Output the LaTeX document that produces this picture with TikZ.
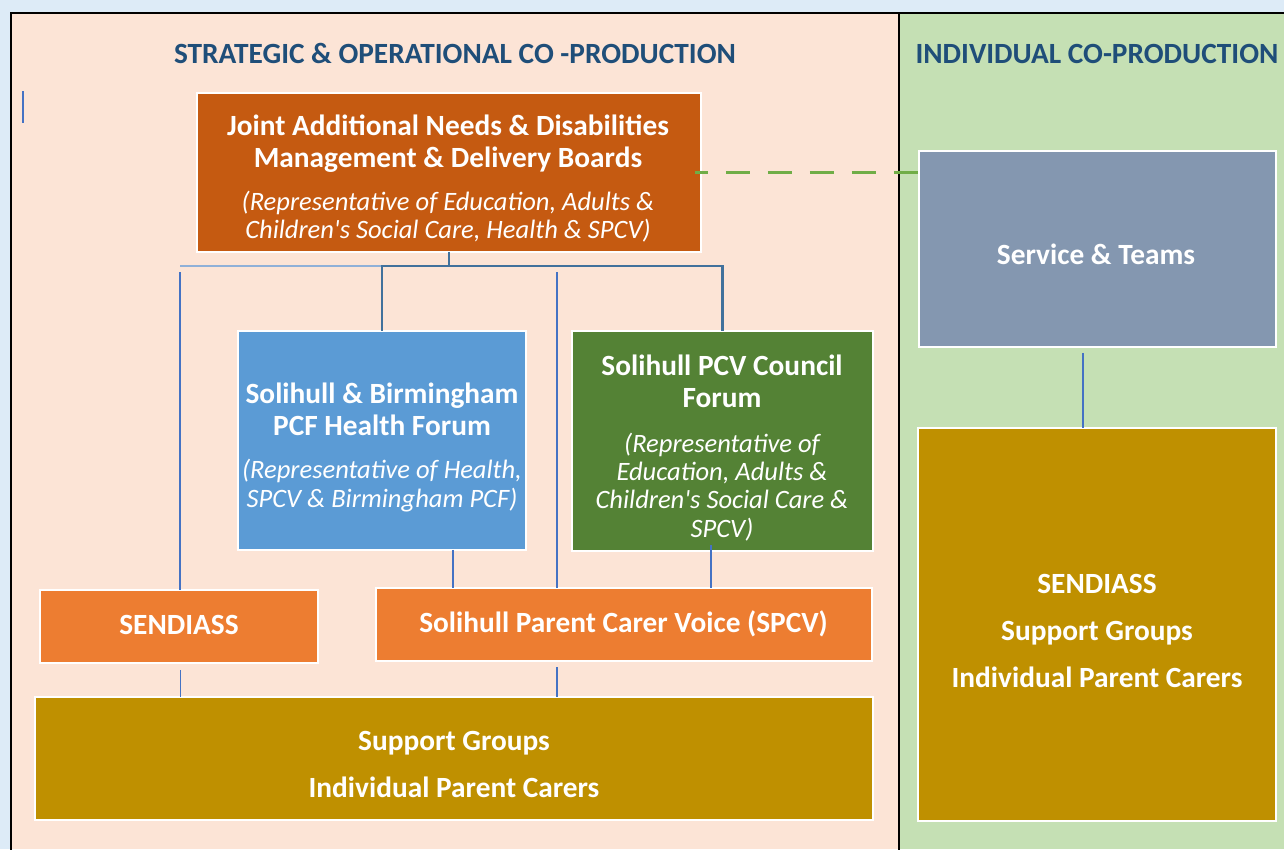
\documentclass[tikz,border=0pt]{standalone}
\usepackage{fontspec}
\setmainfont{Carlito}
\definecolor{pagebg}{HTML}{DDEBF7}
\definecolor{leftbg}{HTML}{FCE4D6}
\definecolor{rightbg}{HTML}{C5E0B4}
\definecolor{titleblue}{HTML}{1F4E79}
\definecolor{jointc}{HTML}{C55A11}
\definecolor{servc}{HTML}{8497B0}
\definecolor{pcfc}{HTML}{5B9BD5}
\definecolor{pcvc}{HTML}{548235}
\definecolor{orangec}{HTML}{ED7D31}
\definecolor{goldc}{HTML}{BF9000}
\definecolor{linec}{HTML}{4472C4}
\definecolor{treec}{HTML}{41719C}
\definecolor{treelightc}{HTML}{8FB0D8}
\definecolor{dashc}{HTML}{70AD47}
\tikzset{
  box/.style={draw=white, line width=1.6pt, inner sep=0pt, outer sep=0pt},
  ttl/.style={font=\bfseries\fontsize{16.7}{19}\selectfont, text=titleblue, anchor=base, inner sep=0pt},
  bt/.style={font=\bfseries\fontsize{16.7}{19}\selectfont, text=white, anchor=base, inner sep=0pt},
  itl/.style={font=\itshape\fontsize{15.1}{17}\selectfont, text=white, anchor=base, inner sep=0pt},
  thinline/.style={draw=linec, line width=0.8pt},
  treeline/.style={draw=treec, line width=1.4pt},
  treelight/.style={draw=treelightc, line width=1.4pt},
  dashline/.style={draw=dashc, line width=2pt, dash pattern=on 13.66pt off 10.24pt, dash phase=6.26pt}
}
\begin{document}
\begin{tikzpicture}[x=0.02cm, y=-0.02cm]
\useasboundingbox (0,0) rectangle (1284,849);
\fill[pagebg] (0,0) rectangle (1284,849);
\fill[leftbg] (11,13) rectangle (899,849);
\fill[rightbg] (899,13) rectangle (1284,849);
\draw[black, line width=1.3pt] (11,852) -- (11,13) -- (1286,13);
\draw[black, line width=1.3pt] (899,13) -- (899,852);
% small cursor mark
\coordinate (m1) at (23,91);
\coordinate (m2) at (23,123);
\draw[linec, line width=1.2pt] (m1) -- (m2);

% titles
\node[ttl] (t1) at (455,63) {STRATEGIC \& OPERATIONAL CO -PRODUCTION};
\node[ttl] (t2) at (1097,63) {INDIVIDUAL CO-PRODUCTION};

% boxes
\node[box, fill=jointc, minimum width=10.08cm, minimum height=3.18cm] (joint) at (449,172.5) {};
\node[box, fill=servc, minimum width=7.14cm, minimum height=3.92cm] (serv) at (1097.5,249) {};
\node[box, fill=pcfc, minimum width=5.76cm, minimum height=4.38cm] (pcf) at (382,440.5) {};
\node[box, fill=pcvc, minimum width=6.02cm, minimum height=4.40cm] (pcv) at (722.5,441) {};
\node[box, fill=orangec, minimum width=5.56cm, minimum height=1.46cm] (send) at (179,626.5) {};
\node[box, fill=orangec, minimum width=9.92cm, minimum height=1.46cm] (spcv) at (624,624.5) {};
\node[box, fill=goldc, minimum width=16.76cm, minimum height=2.46cm] (supp) at (454,758.5) {};
\node[box, fill=goldc, minimum width=7.16cm, minimum height=7.86cm] (indiv) at (1097,624.5) {};

% texts
\node[bt] (j1) at (448,135) {Joint Additional Needs \& Disabilities};
\node[bt] (j2) at (448,167) {Management \& Delivery Boards};
\node[itl] (j3) at (448,210) {(Representative of Education, Adults \&};
\node[itl] (j4) at (448,238) {Children\textquotesingle s Social Care, Health \& SPCV)};

\node[bt] (s1) at (1096,264) {Service \& Teams};

\node[bt] (p1) at (382,403) {Solihull \& Birmingham};
\node[bt] (p2) at (382,435) {PCF Health Forum};
\node[itl] (p3) at (382,478) {(Representative of Health,};
\node[itl] (p4) at (382,507) {SPCV \& Birmingham PCF)};

\node[bt] (v1) at (722,375) {Solihull PCV Council};
\node[bt] (v2) at (722,407) {Forum};
\node[itl] (v3) at (722,452) {(Representative of};
\node[itl] (v4) at (722,480) {Education, Adults \&};
\node[itl] (v5) at (722,508) {Children\textquotesingle s Social Care \&};
\node[itl] (v6) at (722,537) {SPCV)};

\node[bt] (d1) at (179,634) {SENDIASS};
\node[bt] (c1) at (623.5,632) {Solihull Parent Carer Voice (SPCV)};

\node[bt] (g1) at (454,750) {Support Groups};
\node[bt] (g2) at (454,797) {Individual Parent Carers};

\node[bt] (r1) at (1097,593) {SENDIASS};
\node[bt] (r2) at (1097,640) {Support Groups};
\node[bt] (r3) at (1097,687) {Individual Parent Carers};

% connectors
\coordinate (hL) at (180,266);
\coordinate (sendtop) at (180,272);
\coordinate (spcvtop) at (557,272);
\draw[treelight] (hL) -- (pcf.north |- hL);
\draw[treeline] (joint.south) -- (joint.south |- hL) -| (pcf.north);
\draw[treeline] (joint.south |- hL) -| (pcv.north);
\draw[thinline] (sendtop) -- (sendtop |- send.north);
\draw[thinline] (spcvtop) -- (spcvtop |- spcv.north);
\draw[thinline] ([xshift=1pt]send.south) ++(0,7) -- ([xshift=1pt]send.south |- supp.north);
\draw[thinline] (spcvtop |- spcv.south) ++(0,6) -- (spcvtop |- supp.north);
\draw[thinline] ([xshift=71*0.02cm]pcf.south) -- ([xshift=71*0.02cm]pcf.south |- spcv.north);
\draw[linec, line width=1.3pt] ([xshift=-11.5*0.02cm, yshift=6*0.02cm]pcv.south) -- ([xshift=-11.5*0.02cm]pcv.south |- spcv.north);
\draw[thinline] ([xshift=-14.5*0.02cm, yshift=-6*0.02cm]serv.south) -- ([xshift=-14.5*0.02cm]serv.south |- indiv.north);
\draw[dashline] ([xshift=-6*0.02cm]joint.east) -- (joint.east -| serv.west);
\end{tikzpicture}
\end{document}
